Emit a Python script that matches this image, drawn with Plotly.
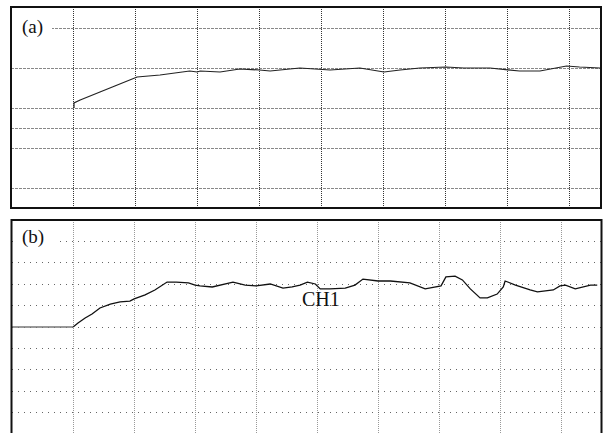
import plotly.graph_objects as go

W, H = 603, 433

# Panel (a): time in divisions, value in divisions (20 px units)
a_time = [0, 0, 0.1, 0.21, 0.42, 0.66, 0.905, 1.02, 1.39, 1.87, 1.99, 2.04, 2.36, 2.68, 3.0, 3.17,
          3.65, 3.97, 4.14, 4.62, 5.01, 5.27, 5.59, 6.01, 6.30, 6.72, 7.0, 7.2, 7.53, 7.77, 7.96, 8.17, 8.5]
a_val = [5.0, 5.25, 5.4, 5.55, 5.8, 6.1, 6.4, 6.55, 6.65, 6.85, 6.8, 6.85, 6.8, 6.95, 6.9, 6.85,
         7.0, 6.95, 6.9, 7.0, 6.8, 6.9, 7.0, 7.05, 7.0, 7.0, 6.9, 6.85, 6.85, 7.0, 7.1, 7.05, 7.0]

# Panel (b)
b_pre_time = [-1.02, 0]
b_pre_val = [5.0, 5.0]
b_time = [0, 0.08, 0.197, 0.31, 0.44, 0.61, 0.77, 0.93, 1.0, 1.18, 1.34, 1.46, 1.54, 1.69, 1.89, 2.0,
          2.08, 2.28, 2.49, 2.62, 2.82, 3.0, 3.23, 3.44, 3.59, 3.72, 3.84, 3.97, 4.05, 4.21, 4.46,
          4.62, 4.75, 5.0, 5.2, 5.36, 5.52, 5.77, 5.98, 6.03, 6.11, 6.26, 6.38, 6.51, 6.67, 6.79,
          6.95, 7.05, 7.08, 7.25, 7.49, 7.61, 7.87, 7.98, 8.07, 8.23, 8.48, 8.59]
b_val = [5.0, 5.19, 5.42, 5.61, 5.89, 6.07, 6.17, 6.21, 6.31, 6.5, 6.73, 6.96, 7.1, 7.1, 7.06, 6.96,
         6.92, 6.87, 7.01, 7.1, 6.96, 6.92, 7.01, 6.82, 6.87, 6.96, 7.1, 7.01, 6.78, 6.78, 6.82,
         6.96, 7.24, 7.15, 7.15, 7.1, 7.06, 6.78, 6.87, 6.92, 7.34, 7.38, 7.2, 6.78, 6.36, 6.36,
         6.54, 6.87, 7.15, 6.96, 6.73, 6.64, 6.73, 6.92, 6.96, 6.78, 6.96, 6.96]

a_ygrid = [1, 3, 4, 5, 7, 9]
b_ygrid = [1, 2, 3, 4, 5, 6, 7, 8, 9]
xgrid = [0, 1, 2, 3, 4, 5, 6, 7, 8]

fig = go.Figure()
fig.add_trace(go.Scatter(x=a_time, y=a_val, mode="lines", line=dict(color="#222", width=1.2),
                         xaxis="x", yaxis="y", showlegend=False, hoverinfo="skip"))
fig.add_trace(go.Scatter(x=b_pre_time, y=b_pre_val, mode="lines", line=dict(color="#777", width=1.5),
                         xaxis="x2", yaxis="y2", showlegend=False, hoverinfo="skip"))
fig.add_trace(go.Scatter(x=b_time, y=b_val, mode="lines", line=dict(color="#111", width=1.3),
                         xaxis="x2", yaxis="y2", showlegend=False, hoverinfo="skip"))

def px_x(p):
    return p / W

def px_y(p):
    return 1 - p / H

common = dict(showticklabels=False, ticks="", zeroline=False, showline=False)

fig.update_layout(
    width=W, height=H, margin=dict(l=0, r=0, t=0, b=0),
    paper_bgcolor="white", plot_bgcolor="white",
    xaxis=dict(domain=[px_x(11), px_x(601)], range=[-1.018, 8.517], tickvals=xgrid,
               showgrid=True, gridcolor="#333", griddash="1px,1px", gridwidth=1, anchor="y", **common),
    yaxis=dict(domain=[px_y(208), px_y(7)], range=[0, 10.05], tickvals=a_ygrid,
               showgrid=True, gridcolor="#888", griddash="3px,1px", gridwidth=1, anchor="x", **common),
    xaxis2=dict(domain=[px_x(11.5), px_x(601.5)], range=[-1.01, 8.66], tickvals=xgrid,
                showgrid=True, gridcolor="#999", griddash="1px,1px", gridwidth=1, anchor="y2", **common),
    yaxis2=dict(domain=[0, px_y(220)], range=[0.047, 10], tickvals=b_ygrid,
                showgrid=True, gridcolor="#666", griddash="1px,5px", gridwidth=1, anchor="x2", **common),
    shapes=[
        # white boxes behind the panel labels (hide gridline there)
        dict(type="rect", xref="paper", yref="paper", x0=px_x(12), x1=px_x(52), y0=px_y(40), y1=px_y(12),
             fillcolor="white", line=dict(width=0), layer="above"),
        dict(type="rect", xref="paper", yref="paper", x0=px_x(13), x1=px_x(59), y0=px_y(250), y1=px_y(225),
             fillcolor="white", line=dict(width=0), layer="above"),
        # panel borders
        dict(type="rect", xref="paper", yref="paper", x0=px_x(11), x1=px_x(601), y0=px_y(208), y1=px_y(7),
             line=dict(color="#111", width=2)),
        dict(type="path", xref="paper", yref="paper",
             path=f"M {px_x(11.5)},0 L {px_x(11.5)},{px_y(220)} L {px_x(601.5)},{px_y(220)} L {px_x(601.5)},0",
             line=dict(color="#111", width=2)),
    ],
    annotations=[
        dict(text="(a)", xref="paper", yref="paper", x=px_x(32.5), y=px_y(27), xanchor="center", yanchor="middle",
             showarrow=False, font=dict(family="Liberation Serif", size=19, color="#111")),
        dict(text="(b)", xref="paper", yref="paper", x=px_x(33), y=px_y(237), xanchor="center", yanchor="middle",
             showarrow=False, font=dict(family="Liberation Serif", size=19, color="#111")),
        dict(text="CH1", xref="paper", yref="paper", x=px_x(321), y=px_y(299), xanchor="center", yanchor="middle",
             showarrow=False, font=dict(family="Liberation Serif", size=20, color="#111")),
    ],
)

fig.write_html("out.html", config={"displayModeBar": False})

# remove default page margin so the figure sits at the window's top-left corner
with open("out.html", "r", encoding="utf-8") as f:
    html = f.read()
html = html.replace("<head>", "<head><style>html,body{margin:0;padding:0;overflow:hidden;}</style>", 1)
with open("out.html", "w", encoding="utf-8") as f:
    f.write(html)
